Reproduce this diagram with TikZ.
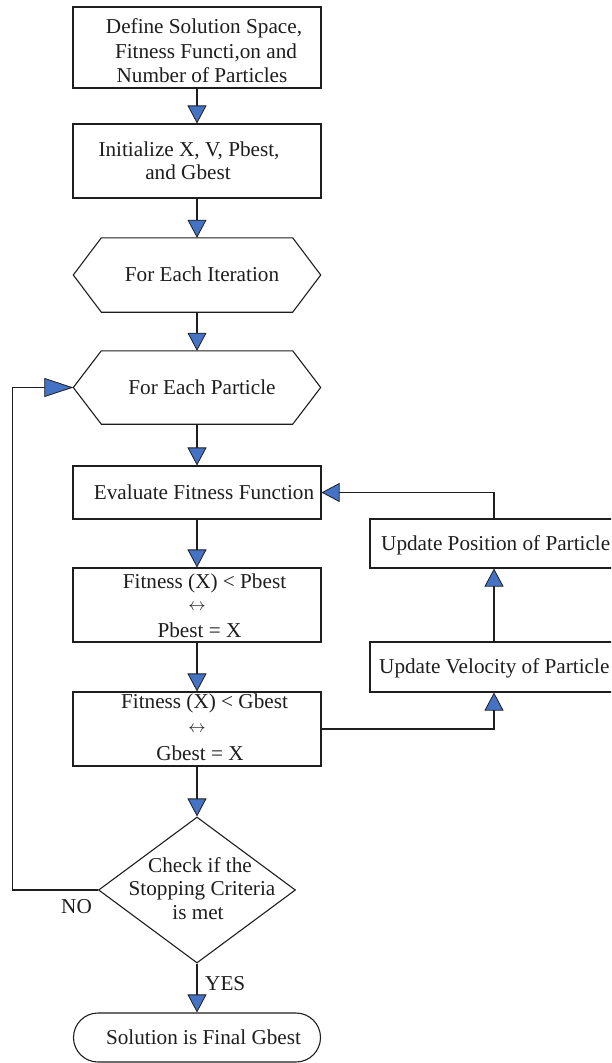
\documentclass[tikz,border=0pt]{standalone}
\usepackage{fontspec}
\setmainfont{Liberation Serif}
\usetikzlibrary{arrows.meta,shapes.geometric}
\definecolor{ablue}{RGB}{68,114,196}
\definecolor{ink}{RGB}{30,30,30}
\begin{document}
\begin{tikzpicture}[x=1pt,y=-1pt,
  box/.style={draw=ink, line width=1.1pt, rectangle, inner sep=0pt, minimum width=248pt},
  ghost/.style={inner sep=0pt, rectangle, minimum width=247pt},
  lbl/.style={inner sep=0pt, anchor=base, text=ink, font=\fontsize{21.2}{24}\selectfont},
  sym/.style={inner sep=0pt, text=ink, font=\fontsize{18}{18}\selectfont},
  conn/.style={draw=ink, line width=1.1pt},
  arr/.style={conn, -{Triangle[length=18pt,width=19pt,fill=ablue,line width=0.8pt]}},
  larr/.style={conn, -{Triangle[length=29pt,width=19pt,fill=ablue,line width=0.8pt]}},
]
\clip (0,0) rectangle (611,1063);
\fill[white] (0,0) rectangle (611,1063);

% shapes
\node[box, minimum height=81pt] (b1) at (197,47.5) {};
\node[box, minimum height=74pt] (b2) at (197,161) {};
\node[ghost, minimum height=74pt] (h1) at (197,275) {};
\node[ghost, minimum height=73pt] (h2) at (197,387.5) {};
\node[box, minimum height=53pt] (e1) at (197,492.5) {};
\node[box, minimum height=74pt] (p1) at (197,605) {};
\node[box, minimum height=74pt] (g1) at (197,729) {};
\node[box, minimum width=270pt, minimum height=49pt] (u1) at (505,543.5) {};
\node[box, minimum width=270pt, minimum height=50pt] (u2) at (505,667) {};
\node[draw=ink, line width=1.1pt, diamond, inner sep=0pt, minimum width=197pt, minimum height=146pt] (d1) at (197,890) {};
\node[box, minimum width=247pt, minimum height=49pt, rounded corners=24.5pt] (t1) at (197,1037.5) {};

\draw[conn] (h1.west) -- ([xshift=28pt]h1.north west) -- ([xshift=-28pt]h1.north east) -- (h1.east)
  -- ([xshift=-28pt]h1.south east) -- ([xshift=28pt]h1.south west) -- cycle;
\draw[conn] (h2.west) -- ([xshift=28pt]h2.north west) -- ([xshift=-28pt]h2.north east) -- (h2.east)
  -- ([xshift=-28pt]h2.south east) -- ([xshift=28pt]h2.south west) -- cycle;

% texts
\node[lbl] (b1a) at (204,33) {Define Solution Space,};
\node[lbl] (b1b) at (206,58) {Fitness Functi,on and};
\node[lbl] (b1c) at (202,82) {Number of Particles};
\node[lbl] (b2a) at (189,156) {Initialize X, V, Pbest,};
\node[lbl] (b2b) at (188,179) {and Gbest};
\node[lbl] (h1a) at (202,281) {For Each Iteration};
\node[lbl] (h2a) at (202,394) {For Each Particle};
\node[lbl] (e1a) at (204,499) {Evaluate Fitness Function};
\node[lbl] (p1a) at (204.5,588) {Fitness (X) < Pbest};
\node[sym] (p1b) at (197,607) {$\leftrightarrow$};
\node[lbl] (p1c) at (199.5,637) {Pbest = X};
\node[lbl] (g1a) at (204.5,708) {Fitness (X) < Gbest};
\node[sym] (g1b) at (197,729) {$\leftrightarrow$};
\node[lbl] (g1c) at (200,760) {Gbest = X};
\node[lbl, anchor=base west] (u1a) at (381,550) {Update Position of Particle};
\node[lbl, anchor=base west] (u2a) at (379,673) {Update Velocity of Particle};
\node[lbl] (d1a) at (200,872) {Check if the};
\node[lbl] (d1b) at (202,895) {Stopping Criteria};
\node[lbl] (d1c) at (198,919) {is met};
\node[lbl, anchor=base west] (no) at (61,913) {NO};
\node[lbl, anchor=base west] (yes) at (205,990) {YES};
\node[lbl] (t1a) at (203.5,1044) {Solution is Final Gbest};

% connectors
\coordinate (lp) at (12.7,0);
\coordinate (rx) at (494,0);
\draw[arr] (b1) -- (b2);
\draw[arr] (b2) -- (h1);
\draw[arr] (h1) -- (h2);
\draw[arr] (h2) -- (e1);
\draw[arr] (e1) -- (p1);
\draw[arr] (p1) -- (g1);
\draw[arr] (g1) -- (d1);
\draw[arr] (d1) -- (t1);
\draw[larr] (d1.west) -- (d1.west -| lp) -- (h2.west -| lp) -- (h2.west);
\draw[arr] (g1.east) -- (g1.east -| rx) -- (u2.south -| rx);
\draw[arr] (u2.north -| rx) -- (u1.south -| rx);
\draw[arr] (u1.north -| rx) -- (e1.east -| rx) -- (e1.east);
\end{tikzpicture}
\end{document}
